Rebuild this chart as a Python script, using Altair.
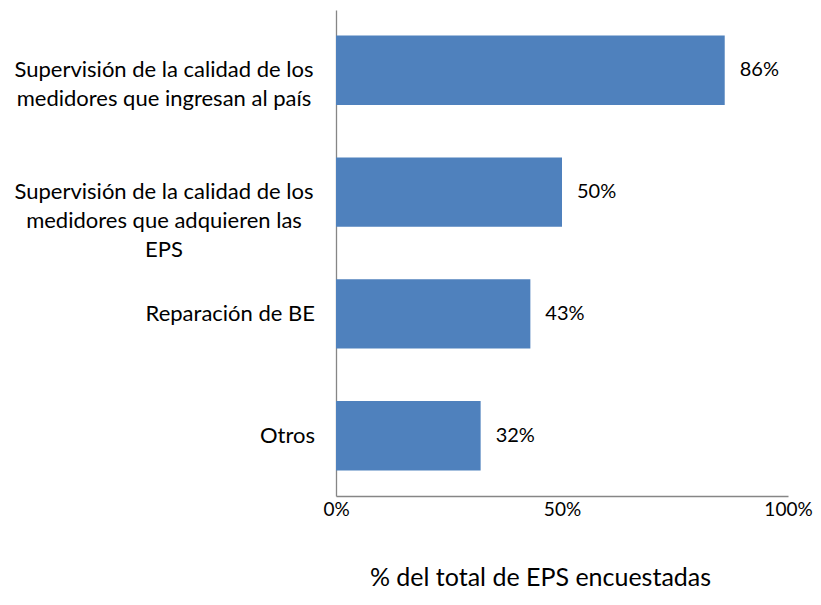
import altair as alt
import pandas as pd

categories = [
    "Supervisión de la calidad de los\nmedidores que ingresan al país",
    "Supervisión de la calidad de los\nmedidores que adquieren las\nEPS",
    "Reparación de BE",
    "Otros",
]
values = [0.86, 0.50, 0.43, 0.32]
x_ticks = [0, 0.5, 1.0]

df = pd.DataFrame({"cat": categories, "val": values})
df["multi"] = df["cat"].str.contains("\n")

FONT = "Lato"
y_enc = alt.Y("cat:N", sort=categories,
              scale=alt.Scale(paddingInner=0.43, paddingOuter=0.21),
              axis=alt.Axis(labels=False, ticks=False, title=None,
                            domainColor="#868686", domainWidth=1.3))

base = alt.Chart(df)

bars = base.mark_bar(color="#4F81BD").encode(
    x=alt.X("val:Q", scale=alt.Scale(domain=[0, 1]),
            axis=alt.Axis(values=x_ticks, format=".0%", grid=False, ticks=False,
                          domainColor="#868686", domainWidth=1.3,
                          labelFont=FONT, labelFontSize=19, labelColor="#000",
                          labelPadding=4, labelFlush=False,
                          title="% del total de EPS encuestadas",
                          titleFont=FONT, titleFontSize=25, titleFontWeight="normal",
                          titleColor="#000", titlePadding=46,
                          titleX=204, titleAlign="center", titleAnchor="start")),
    y=y_enc,
)

vals = base.mark_text(align="left", baseline="middle", dx=15, font=FONT,
                      fontSize=20, color="#000").encode(
    x="val:Q", y=alt.Y("cat:N", sort=categories),
    text=alt.Text("val:Q", format=".0%"),
)

multi_lbl = base.transform_filter("datum.multi").mark_text(
    align="center", baseline="middle", lineBreak="\n", lineHeight=29,
    font=FONT, fontSize=22, color="#000").encode(
    x=alt.value(-172), y=alt.Y("cat:N", sort=categories), text="cat:N")

single_lbl = base.transform_filter("!datum.multi").mark_text(
    align="right", baseline="middle", font=FONT, fontSize=22, color="#000").encode(
    x=alt.value(-21), y=alt.Y("cat:N", sort=categories), text="cat:N")

chart = alt.layer(bars, vals, multi_lbl, single_lbl).properties(
    width=452, height=486,
    autosize=alt.AutoSizeParams(type="none"),
    padding={"left": 328, "top": 2, "right": 25, "bottom": 100},
    background="white",
).configure_view(stroke=None)

chart.save("out.html", embed_options={"renderer": "svg", "actions": False})
